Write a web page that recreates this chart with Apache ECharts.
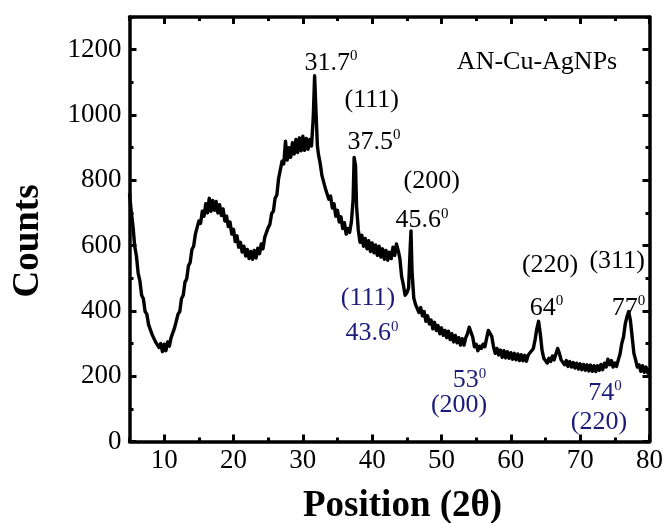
<!DOCTYPE html>
<html>
<head>
<meta charset="utf-8">
<script src="https://cdn.jsdelivr.net/npm/echarts@6/dist/echarts.min.js"></script>
<style>html,body{margin:0;padding:0;background:#fff}#chart{width:667px;height:523px}</style>
</head>
<body>
<div id="chart"></div>
<script>
// XRD pattern: [2θ, counts]
const xrdPattern = [
[5,760],[5.25,705],[5.5,660],[5.75,598],
[6,568],[6.25,515],[6.5,492],[6.75,448],
[7,437],[7.25,398],[7.5,390],[7.75,358],
[8,356],[8.25,328],[8.5,328],[8.75,305],
[9,310],[9.25,288],[9.5,300],[9.75,275],
[10,298],[10.25,278],[10.5,305],[10.75,292],
[11,318],[11.25,315],[11.5,348],[11.75,352],
[12,390],[12.25,398],[12.5,438],[12.75,448],
[13,488],[13.25,498],[13.5,538],[13.75,548],
[14,588],[14.25,598],[14.5,635],[14.75,640],
[15,675],[15.25,668],[15.5,705],[15.75,690],
[16,728],[16.25,700],[16.5,745],[16.75,705],
[17,738],[17.25,708],[17.5,735],[17.75,700],
[18,725],[18.25,692],[18.5,712],[18.75,675],
[19,690],[19.25,658],[19.5,672],[19.75,635],
[20,650],[20.25,612],[20.5,630],[20.75,595],
[21,610],[21.25,580],[21.5,598],[21.75,568],
[22,588],[22.25,560],[22.5,582],[22.75,558],
[23,585],[23.25,562],[23.5,592],[23.75,575],
[24,605],[24.25,590],[24.5,625],[24.75,630],
[25,655],[25.25,665],[25.5,698],[25.75,705],
[26,745],[26.25,755],[26.5,805],[26.75,810],
[27,858],[27.25,850],[27.5,920],[27.75,862],
[28,900],[28.25,870],[28.5,915],[28.75,880],
[29,925],[29.25,885],[29.5,930],[29.75,890],
[30,935],[30.25,892],[30.5,928],[30.75,895],
[31,925],[31.25,905],[31.5,990],[31.7,1120],[31.9,1010],
[32.1,905],[32.25,880],[32.5,852],[32.75,815],
[33,812],[33.25,775],[33.5,780],[33.75,742],
[34,752],[34.25,715],[34.5,728],[34.75,690],
[35,708],[35.25,672],[35.5,688],[35.75,652],
[36,670],[36.25,635],[36.5,652],[36.75,640],
[37,672],[37.25,740],[37.4,870],[37.6,845],[37.75,720],
[38,648],[38.25,610],[38.5,632],[38.75,598],
[39,622],[39.25,590],[39.5,615],[39.75,582],
[40,608],[40.25,578],[40.5,602],[40.75,570],
[41,598],[41.25,565],[41.5,590],[41.75,558],
[42,585],[42.25,555],[42.5,580],[42.75,560],
[43,595],[43.25,570],[43.5,605],[43.75,585],
[44,560],[44.25,505],[44.5,480],[44.75,448],
[45,455],[45.25,470],[45.5,600],[45.6,645],[45.75,520],
[46,440],[46.25,420],[46.5,425],[46.75,395],
[47,410],[47.25,385],[47.5,398],[47.75,368],
[48,385],[48.25,360],[48.5,372],[48.75,345],
[49,365],[49.25,340],[49.5,355],[49.75,330],
[50,348],[50.25,325],[50.5,340],[50.75,318],
[51,338],[51.25,312],[51.5,330],[51.75,305],
[52,325],[52.25,302],[52.5,318],[52.75,295],
[53,315],[53.25,295],[53.5,318],[53.75,330],
[54,350],[54.25,355],[54.5,320],[54.75,290],
[55,298],[55.25,278],[55.5,292],[55.75,285],
[56,298],[56.25,290],[56.5,315],[56.75,340],
[57,345],[57.25,322],[57.5,290],[57.75,270],
[58,285],[58.25,265],[58.5,280],[58.75,258],
[59,278],[59.25,256],[59.5,275],[59.75,255],
[60,272],[60.25,252],[60.5,270],[60.75,250],
[61,268],[61.25,248],[61.5,266],[61.75,247],
[62,264],[62.25,246],[62.5,265],[62.75,262],
[63,278],[63.25,285],[63.5,312],[63.75,345],
[64,368],[64.25,330],[64.5,280],[64.75,255],
[65,255],[65.25,240],[65.5,255],[65.75,245],
[66,262],[66.25,250],[66.5,268],[66.75,285],
[67,270],[67.25,250],[67.5,252],[67.75,235],
[68,248],[68.25,230],[68.5,245],[68.75,228],
[69,242],[69.25,225],[69.5,240],[69.75,222],
[70,238],[70.25,220],[70.5,236],[70.75,218],
[71,235],[71.25,216],[71.5,234],[71.75,215],
[72,232],[72.25,214],[72.5,232],[72.75,218],
[73,236],[73.25,220],[73.5,240],[73.75,228],
[74,252],[74.25,235],[74.5,248],[74.75,228],
[75,240],[75.25,230],[75.5,250],[75.75,268],
[76,300],[76.25,320],[76.5,360],[76.75,382],
[77,398],[77.25,370],[77.5,320],[77.75,270],
[78,250],[78.25,228],[78.5,235],[78.75,215],
[79,232],[79.25,212],[79.5,228],[79.75,210],
[80,225]
];

const xTicks = [10, 20, 30, 40, 50, 60, 70, 80];
const yTicks = [0, 200, 400, 600, 800, 1000, 1200];

// annotations: [2θ, counts, main text, superscript]
const blackNotes = [
  [34.06, 1159, '31.7', '0'],
  [39.93, 1046, '(111)', ''],
  [40.27, 918, '37.5', '0'],
  [48.59, 796, '(200)', ''],
  [47.2, 678, '45.6', '0'],
  [65.66, 541, '(220)', ''],
  [75.33, 551, '(311)', ''],
  [65.16, 409, '64', '0'],
  [76.96, 409, '77', '0'],
  [63.78, 1163, 'AN-Cu-AgNPs', '']
];
const blueNotes = [
  [39.4, 440, '(111)', ''],
  [39.98, 332, '43.6', '0'],
  [54.05, 188, '53', '0'],
  [52.53, 112, '(200)', ''],
  [73.59, 149, '74', '0'],
  [72.72, 60, '(220)', '']
];

const serif = 'Liberation Serif, Times New Roman, serif';
const BLACK = '#000000';
const BLUE = '#1c1c78';

function noteSeries(list, color) {
  return {
    type: 'scatter',
    xAxisIndex: 0, yAxisIndex: 0,
    symbolSize: 0,
    itemStyle: { color: color, opacity: 1 },
    silent: true,
    z: 5,
    data: list.map(d => ({ value: [d[0], d[1]], main: d[2], sup: d[3] })),
    label: {
      show: true,
      position: 'inside',
      opacity: 1,
      formatter: p => '{n|' + p.data.main + '}' + (p.data.sup ? '{s|' + p.data.sup + '}' : ''),
      rich: {
        n: { fontFamily: serif, fontSize: 26, color: color, lineHeight: 28 },
        s: { fontFamily: serif, fontSize: 15, color: color, lineHeight: 15, verticalAlign: 'top' }
      }
    }
  };
}

const axisLineStyle = { color: '#000', width: 3.5 };
const xRange = { min: 5, max: 80 };
const yRange = { min: 0, max: 1300 };
const tickStyle = { width: 3, color: '#000' };

const chart = echarts.init(document.getElementById('chart'), null, { renderer: 'canvas' });
chart.setOption({
  animation: false,
  backgroundColor: '#fff',
  grid: { left: 129.5, right: 17.5, top: 17, bottom: 81.5, containLabel: false },
  xAxis: [
    { type: 'value', position: 'bottom', ...xRange,
      axisLine: { show: true, onZero: false, lineStyle: axisLineStyle },
      axisTick: { show: true, inside: true, length: 7, customValues: xTicks, lineStyle: tickStyle },
      axisLabel: { show: true, customValues: xTicks, margin: 6, fontFamily: serif, fontSize: 27, color: BLACK,
                   formatter: v => String(v) },
      splitLine: { show: false } },
    { type: 'value', position: 'bottom', ...xRange, interval: 5,
      axisLine: { show: false, onZero: false },
      axisTick: { show: true, inside: true, length: 4, lineStyle: tickStyle },
      axisLabel: { show: false }, splitLine: { show: false } },
    { type: 'value', position: 'top', ...xRange,
      axisLine: { show: true, onZero: false, lineStyle: axisLineStyle },
      axisTick: { show: true, inside: true, length: 7, customValues: xTicks, lineStyle: tickStyle },
      axisLabel: { show: false }, splitLine: { show: false } },
    { type: 'value', position: 'top', ...xRange, interval: 5,
      axisLine: { show: false, onZero: false },
      axisTick: { show: true, inside: true, length: 4, lineStyle: tickStyle },
      axisLabel: { show: false }, splitLine: { show: false } }
  ],
  yAxis: [
    { type: 'value', position: 'left', ...yRange,
      axisLine: { show: true, onZero: false, lineStyle: axisLineStyle },
      axisTick: { show: true, inside: true, length: 7, customValues: yTicks, lineStyle: tickStyle },
      axisLabel: { show: true, customValues: yTicks, margin: 8, fontFamily: serif, fontSize: 27, color: BLACK,
                   formatter: v => String(v) },
      splitLine: { show: false } },
    { type: 'value', position: 'left', ...yRange, interval: 100,
      axisLine: { show: false, onZero: false },
      axisTick: { show: true, inside: true, length: 4, lineStyle: tickStyle },
      axisLabel: { show: false }, splitLine: { show: false } },
    { type: 'value', position: 'right', ...yRange,
      axisLine: { show: true, onZero: false, lineStyle: axisLineStyle },
      axisTick: { show: true, inside: true, length: 7, customValues: yTicks, lineStyle: tickStyle },
      axisLabel: { show: false }, splitLine: { show: false } },
    { type: 'value', position: 'right', ...yRange, interval: 100,
      axisLine: { show: false, onZero: false },
      axisTick: { show: true, inside: true, length: 4, lineStyle: tickStyle },
      axisLabel: { show: false }, splitLine: { show: false } }
  ],
  series: [
    { type: 'line', xAxisIndex: 0, yAxisIndex: 0, data: xrdPattern,
      showSymbol: false, symbol: 'none', smooth: false,
      lineStyle: { color: '#000', width: 3.4, join: 'round' }, z: 3 },
    noteSeries(blackNotes, BLACK),
    noteSeries(blueNotes, BLUE)
  ],
  graphic: [
    { type: 'text', left: 303, top: 488, silent: true,
      style: { text: 'Position (2θ)', font: 'bold 37px ' + serif, fill: '#000' } },
    { type: 'text', x: 28, y: 241, rotation: Math.PI / 2, silent: true,
      style: { text: 'Counts', font: 'bold 37px ' + serif, fill: '#000', align: 'center', verticalAlign: 'middle' } }
  ]
});
</script>
</body>
</html>
